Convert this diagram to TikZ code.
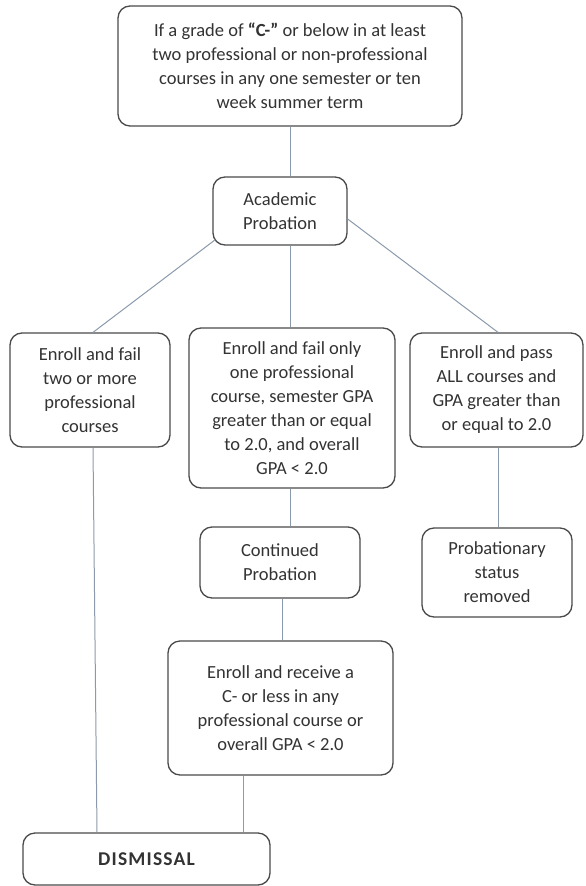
\documentclass[tikz,border=0pt]{standalone}
\usepackage{fontspec}
\setmainfont{Carlito}
\definecolor{txt}{HTML}{333333}
\definecolor{edge}{HTML}{4A4A4A}
\definecolor{conn}{HTML}{8C9BAB}
\begin{document}
\begin{tikzpicture}[x=1pt,y=-1pt,
  box/.style={draw=edge,line width=1.3pt,rounded corners=12pt,align=center,
    text=txt,inner sep=0pt,font=\fontsize{18.5}{24}\selectfont},
  link/.style={draw=conn,line width=1pt}]
\useasboundingbox[fill=white] (0,0) rectangle (586,886);
\node[box,minimum width=344pt,minimum height=120pt] (top) at (290,66)
  {If a grade of \textbf{“C-”} or below in at least\\two professional or non-professional\\courses in any one semester or ten\\week summer term};
\node[box,minimum width=134pt,minimum height=68pt] (ap) at (280,211)
  {Academic\\Probation};
\node[box,minimum width=160pt,minimum height=114pt] (lft) at (90,390)
  {Enroll and fail\\two or more\\professional\\courses};
\node[box,minimum width=206pt,minimum height=160pt] (mid) at (292,408)
  {Enroll and fail only\\one professional\\course, semester GPA\\greater than or equal\\to 2.0, and overall\\GPA < 2.0};
\node[box,minimum width=173pt,minimum height=114pt] (rgt) at (496.5,390)
  {Enroll and pass\\ALL courses and\\GPA greater than\\or equal to 2.0};
\node[box,minimum width=160pt,minimum height=71pt] (cp) at (280,562.5)
  {Continued\\Probation};
\node[box,minimum width=150pt,minimum height=89pt] (psr) at (497,572.5)
  {Probationary\\status\\removed};
\node[box,minimum width=225pt,minimum height=134pt] (bm) at (280.5,708)
  {Enroll and receive a\\C- or less in any\\professional course or\\overall GPA < 2.0};
\node[box,minimum width=247pt,minimum height=52pt,font=\fontsize{19.5}{24}\selectfont\bfseries\addfontfeature{LetterSpace=6}] (dis) at (146.5,859)
  {DISMISSAL};
\path[link] (top.south) -- (top.south |- ap.north);
\path[link] ([xshift=3pt,yshift=6pt]ap.south west) -- ([xshift=3pt]lft.north);
\path[link] ([yshift=-8pt]ap.east) -- ([xshift=1.5pt]rgt.north);
\path[link] ([xshift=10pt]ap.south) -- ([xshift=10pt]ap.south |- mid.north);
\path[link] ([xshift=3pt]lft.south) -- ([xshift=-49.5pt]dis.north);
\path[link] ([xshift=-2pt]mid.south) -- ([xshift=-2pt]mid.south |- cp.north);
\path[link] ([xshift=2pt]cp.south) -- ([xshift=2pt]cp.south |- bm.north);
\path[link] ([xshift=-37.5pt]bm.south) -- ([xshift=-37.5pt]bm.south |- dis.north);
\path[link] ([xshift=1.5pt]rgt.south) -- ([xshift=1.5pt]rgt.south |- psr.north);
\end{tikzpicture}
\end{document}
